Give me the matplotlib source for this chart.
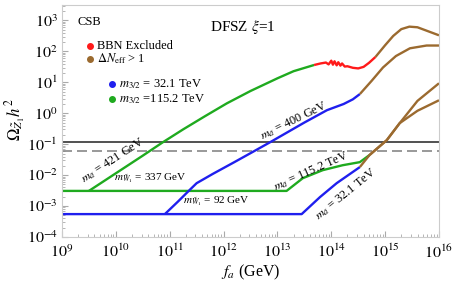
import numpy as np
import matplotlib
matplotlib.use("Agg")
import matplotlib.pyplot as plt
from matplotlib.ticker import LogLocator, FixedLocator, NullFormatter

plt.rcParams['font.family'] = ['Liberation Serif', 'DejaVu Serif']
plt.rcParams['mathtext.fontset'] = 'stix'

# ---- data (log10 f_a [GeV], log10 Omega h^2) ----
# m_3/2 = 115.2 TeV (green): axino-mass-dependent branch
g_up_x = [9.5, 10.0, 10.5, 10.87, 11.25, 11.65, 12.06, 12.5, 13.0, 13.3, 13.68]
g_up_y = [-2.51, -1.94, -1.37, -0.94, -0.52, -0.10, 0.32, 0.72, 1.13, 1.36, 1.56]
g_up_red_x = [13.68, 13.8, 13.9, 13.95, 14.0, 14.03, 14.06, 14.1, 14.13, 14.17, 14.2, 14.25, 14.3, 14.4, 14.5, 14.6, 14.7, 14.82]
g_up_red_y = [1.56, 1.61, 1.64, 1.58, 1.70, 1.57, 1.68, 1.55, 1.65, 1.54, 1.61, 1.51, 1.52, 1.47, 1.45, 1.50, 1.63, 1.82]
g_up_br_x = [14.82, 15.0, 15.15, 15.3, 15.45, 15.6, 15.8, 16.0]
g_up_br_y = [1.82, 2.20, 2.50, 2.72, 2.80, 2.78, 2.65, 2.52]
# green: wino branch
g_lo_x = [9.0, 13.17, 13.47, 13.84, 14.21, 14.53, 14.71]
g_lo_y = [-2.51, -2.51, -2.10, -1.84, -1.68, -1.58, -1.35]
g_lo_br_x = [14.71, 15.03, 15.27, 15.6, 16.0]
g_lo_br_y = [-1.35, -0.87, -0.32, 0.08, 0.42]

# m_3/2 = 32.1 TeV (blue)
b_up_x = [10.91, 11.15, 11.37, 11.5, 11.8, 12.2, 12.5, 12.86, 13.2, 13.5, 13.92, 14.23, 14.4, 14.53]
b_up_y = [-3.26, -2.86, -2.48, -2.26, -1.96, -1.58, -1.29, -0.94, -0.60, -0.30, 0.10, 0.30, 0.45, 0.62]
b_up_br_x = [14.53, 14.75, 14.96, 15.2, 15.46, 15.77, 16.0]
b_up_br_y = [0.62, 1.05, 1.48, 1.85, 2.10, 2.19, 2.19]
b_lo_x = [9.0, 13.45, 13.79, 14.10, 14.53]
b_lo_y = [-3.26, -3.26, -2.71, -2.26, -1.74]
b_lo_br_x = [14.53, 14.71, 15.03, 15.27, 15.6, 16.0]
b_lo_br_y = [-1.74, -1.35, -0.87, -0.32, 0.40, 0.97]

omega_obs = 0.12
omega_half = 0.06

GREEN = '#1faa1f'
BLUE = '#1f1fee'
RED = '#ff1a1a'
BROWN = '#9b6a2f'

fig = plt.figure(figsize=(4.54, 2.84), dpi=100)
ax = fig.add_axes([62/454, 1-237/284, 377/454, 232/284])
ax.set_xscale('log')
ax.set_yscale('log')

def P(xs, ys, c, lw=1.7):
    ax.plot(np.power(10.0, xs), np.power(10.0, ys), color=c, lw=lw, solid_capstyle='butt')

ax.axhline(omega_obs, color='#333333', lw=1.2)
ax.axhline(omega_half, color='#888888', lw=1.2, dashes=(6, 3))

P(g_lo_x, g_lo_y, GREEN)
P(b_lo_x, b_lo_y, BLUE)
P(g_up_x, g_up_y, GREEN)
P(b_up_x, b_up_y, BLUE)
P(g_up_red_x, g_up_red_y, RED)
P(g_up_br_x, g_up_br_y, BROWN)
P(b_up_br_x, b_up_br_y, BROWN)
P(g_lo_br_x, g_lo_br_y, BROWN)
P(b_lo_br_x, b_lo_br_y, BROWN)

ax.set_xlim(1e9, 1e16)
ax.set_ylim(1e-4, 10**3.5)

ax.xaxis.set_major_locator(FixedLocator([10.0**k for k in range(9, 17)]))
ax.set_xticklabels([r'$10^{%d}$' % k for k in range(9, 17)])
ax.yaxis.set_major_locator(FixedLocator([10.0**k for k in range(-4, 4)]))
ax.set_yticklabels([r'$10^{%d}$' % k for k in range(-4, 4)])
ax.xaxis.set_minor_locator(LogLocator(base=10, subs=np.arange(2, 10)*1.0, numticks=50))
ax.yaxis.set_minor_locator(LogLocator(base=10, subs=np.arange(2, 10)*1.0, numticks=50))
ax.xaxis.set_minor_formatter(NullFormatter())
ax.yaxis.set_minor_formatter(NullFormatter())
ax.tick_params(which='both', direction='in', color='#aaaaaa', top=False, right=False)
ax.tick_params(which='major', length=4, labelsize=11.5)
ax.tick_params(axis='x', which='major', pad=5)
ax.tick_params(axis='y', which='major', pad=3)
ax.tick_params(which='minor', length=2)
for s in ax.spines.values():
    s.set_color('#cccccc')
    s.set_linewidth(0.8)

ax.set_xlabel(r'$f_a$ (GeV)', fontsize=11.5, labelpad=1)
fig.text(16/454, 1-120/284, r'$\Omega_{\tilde{Z}_1}h^2$', fontsize=12,
         rotation=90, ha='center', va='center')

# legend / annotations (axes coordinates)
T = ax.transAxes
ax.text(0.042, 0.927, 'CSB', transform=T, fontsize=9, va='center', ha='left')
ax.text(0.48, 0.905, r'DFSZ $\xi$=1', transform=T, fontsize=11, va='center', ha='center')
leg = [(0.074, 0.823, RED, 'BBN Excluded'),
       (0.074, 0.767, BROWN, r'$\Delta N_{\rm eff}$ > 1'),
       (0.133, 0.659, BLUE, r'$m_{3/2}$ = 32.1 TeV'),
       (0.133, 0.595, GREEN, r'$m_{3/2}$ =115.2 TeV')]
for x, y, c, t in leg:
    ax.plot([x], [y], 'o', color=c, ms=4, transform=T, clip_on=False)
    ax.text(x + 0.019, y, t, transform=T, fontsize=9, va='center', ha='left')

def lab(px, py, t, rot, fs=8.8):
    ax.text((px-62)/377, (237-py)/232, t, transform=T, fontsize=fs,
            rotation=rot, rotation_mode='anchor', ha='center', va='center')

lab(113, 160, r'$m_{\tilde{a}}$ = 421 GeV', 33)
lab(150, 178, r'$m_{\tilde{W}_1}$ = 337 GeV', 0, 8)
lab(216, 201, r'$m_{\tilde{W}_1}$ = 92 GeV', 0, 8)
lab(294, 121, r'$m_{\tilde{a}}$ = 400 GeV', 26)
lab(311, 171, r'$m_{\tilde{a}}$ = 115.2 TeV', 24)
lab(346, 194, r'$m_{\tilde{a}}$ = 32.1 TeV', 39)

fig.savefig('out.png', dpi=100)
